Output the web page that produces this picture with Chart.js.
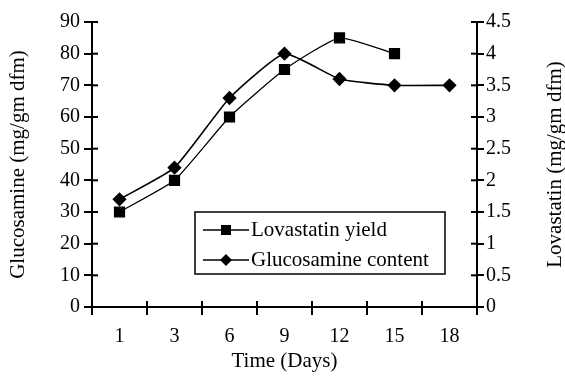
<!DOCTYPE html>
<html lang="en">
  <head>
    <meta charset="UTF-8" />
    <title>Lovastatin and glucosamine</title>
    <script src="https://cdn.jsdelivr.net/npm/chart.js"></script>
    <style>
      body { margin: 0; background: #fff; }
      #wrap { width: 565px; height: 378px; }
    </style>
  </head>
  <body>
    <div id="wrap"><canvas id="myChart"></canvas></div>
    <script>
      // x categories (days)
      const days = ["1", "3", "6", "9", "12", "15", "18"];
      // right axis, mg/gm dfm
      const lovastatinYield = [1.5, 2, 3, 3.75, 4.25, 4.0, null];
      // left axis, mg/gm dfm
      const glucosamineContent = [34, 44, 66, 80, 72, 70, 70];

      const serif = "'Liberation Serif', 'Times New Roman', serif";

      // legend box inside the plot + right title + ticks crossing the axes
      const extras = {
        id: "extras",
        afterDraw(chart) {
          const ctx = chart.ctx;
          const area = chart.chartArea;
          ctx.save();
          ctx.strokeStyle = "#000";
          ctx.lineWidth = 2;
          // inner half of tick marks
          ["y", "y1"].forEach((id) => {
            const s = chart.scales[id];
            s.ticks.forEach((t, i) => {
              const y = s.getPixelForTick(i);
              ctx.beginPath();
              if (id === "y") { ctx.moveTo(area.left, y); ctx.lineTo(area.left + 6, y); }
              else { ctx.moveTo(area.right, y); ctx.lineTo(area.right - 6, y); }
              ctx.stroke();
            });
          });
          const step = (area.right - area.left) / days.length;
          for (let i = 0; i <= days.length; i++) {
            const x = area.left + i * step;
            ctx.beginPath();
            ctx.moveTo(x, area.bottom);
            ctx.lineTo(x, area.bottom - 6);
            ctx.stroke();
          }

          // legend
          const bx = 195, by = 212, bw = 250, bh = 62;
          ctx.lineWidth = 1.5;
          ctx.strokeRect(bx, by, bw, bh);
          ctx.font = "21px " + serif;
          ctx.fillStyle = "#000";
          ctx.textBaseline = "middle";
          chart.data.datasets.forEach((ds, i) => {
            const y = by + 18 + i * 30;
            ctx.lineWidth = ds.borderWidth;
            ctx.beginPath();
            ctx.moveTo(bx + 8, y);
            ctx.lineTo(bx + 54, y);
            ctx.stroke();
            const cx = bx + 31;
            ctx.beginPath();
            if (ds.pointStyle === "rect") {
              ctx.rect(cx - 5, y - 5, 10, 10);
            } else {
              ctx.moveTo(cx, y - 6); ctx.lineTo(cx + 6, y);
              ctx.lineTo(cx, y + 6); ctx.lineTo(cx - 6, y);
              ctx.closePath();
            }
            ctx.fill();
            ctx.fillText(ds.label, bx + 56, y);
          });

          // right axis title, reading bottom to top
          ctx.font = "21px " + serif;
          ctx.translate(555, (area.top + area.bottom) / 2);
          ctx.rotate(-Math.PI / 2);
          ctx.textAlign = "center";
          ctx.fillText("Lovastatin (mg/gm dfm)", 0, 0);
          ctx.restore();
        },
      };

      const tickFont = { family: serif, size: 20 };
      const titleFont = { family: serif, size: 21 };

      new Chart(document.getElementById("myChart"), {
        type: "line",
        data: {
          labels: days,
          datasets: [
            {
              label: "Lovastatin yield",
              data: lovastatinYield,
              yAxisID: "y1",
              borderColor: "#000",
              backgroundColor: "#000",
              borderWidth: 1.3,
              pointStyle: "rect",
              pointRadius: 7,
              tension: 0.15,
              spanGaps: false,
            },
            {
              label: "Glucosamine content",
              data: glucosamineContent,
              yAxisID: "y",
              borderColor: "#000",
              backgroundColor: "#000",
              borderWidth: 1.6,
              pointStyle: "rectRot",
              pointRadius: 6,
              tension: 0.15,
            },
          ],
        },
        options: {
          responsive: true,
          maintainAspectRatio: false,
          animation: false,
          layout: { padding: { top: 22, left: 4, right: 0, bottom: 0 } },
          plugins: { legend: { display: false }, tooltip: { enabled: false } },
          scales: {
            x: {
              offset: true,
              grid: { offset: true, drawOnChartArea: false, color: "#000", lineWidth: 2, tickLength: 8 },
              border: { display: true, color: "#000", width: 2 },
              ticks: { color: "#000", font: tickFont, padding: 10, maxRotation: 0 },
              title: { display: true, text: "Time (Days)", color: "#000", font: titleFont, padding: { top: 3 } },
              afterFit: (s) => { s.height = 71; },
            },
            y: {
              position: "left",
              min: 0,
              max: 90,
              ticks: { stepSize: 10, color: "#000", font: tickFont, padding: 4 },
              grid: { drawOnChartArea: false, color: "#000", lineWidth: 2, tickLength: 8 },
              border: { display: true, color: "#000", width: 2 },
              title: { display: true, text: "Glucosamine (mg/gm dfm)", color: "#000", font: titleFont, padding: 2 },
              afterFit: (s) => { s.width = 88; },
            },
            y1: {
              position: "right",
              min: 0,
              max: 4.5,
              ticks: { stepSize: 0.5, color: "#000", font: tickFont, padding: 2, callback: (v) => String(+v.toFixed(1)) },
              grid: { drawOnChartArea: false, color: "#000", lineWidth: 2, tickLength: 7 },
              border: { display: true, color: "#000", width: 2 },
              afterFit: (s) => { s.width = 88; },
            },
          },
        },
        plugins: [extras],
      });
    </script>
  </body>
</html>
